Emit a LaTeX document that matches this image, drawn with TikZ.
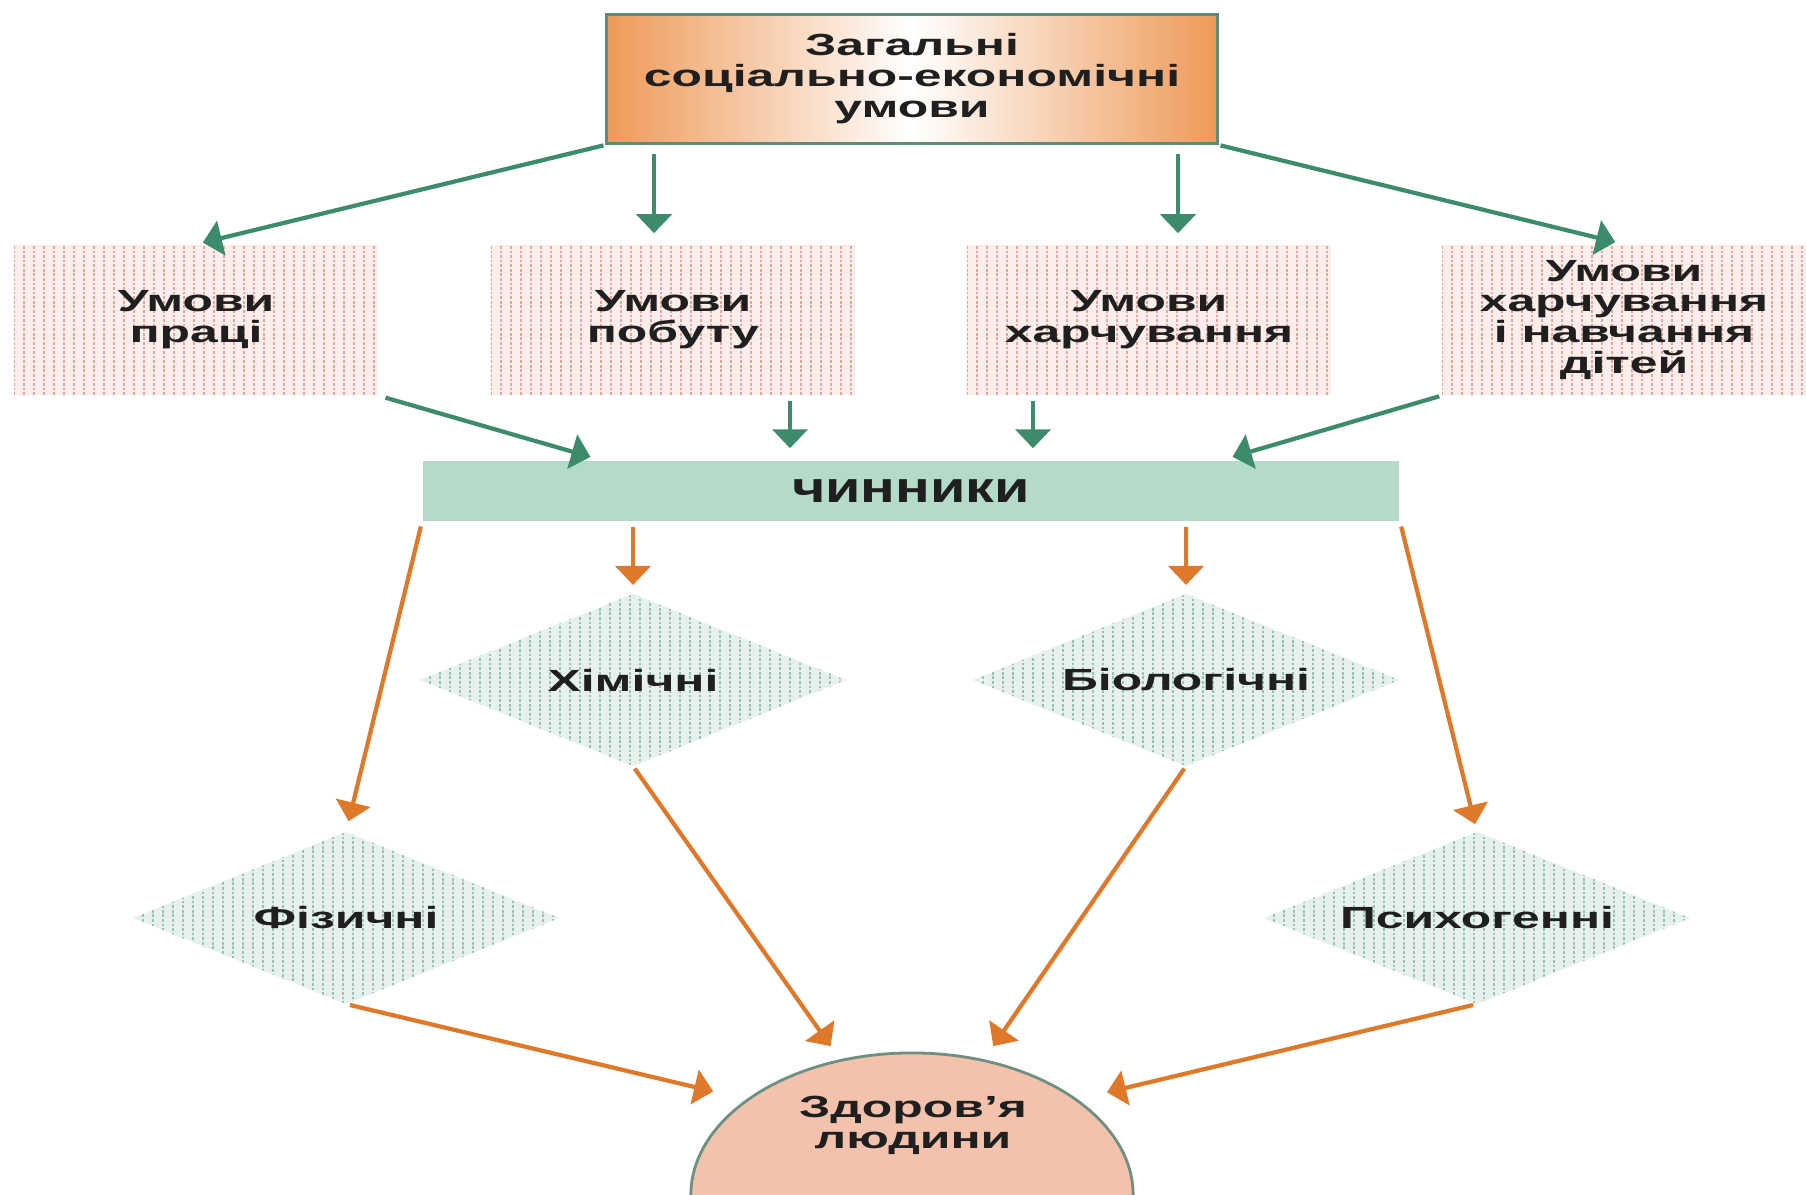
\documentclass[tikz,border=0pt]{standalone}
\usepackage{fontspec}
\setmainfont{Liberation Sans}[FakeStretch=1.63]
\newfontfamily\barfont{Liberation Sans}[FakeStretch=1.33]
\usetikzlibrary{arrows.meta,shapes.geometric}

\definecolor{arrgreen}{HTML}{3C8C6C}
\definecolor{arrorange}{HTML}{E0782A}
\definecolor{topedge}{HTML}{EE9A58}
\definecolor{boxline}{HTML}{5E8B78}
\definecolor{barfill}{HTML}{B4DBC9}
\definecolor{pinkbg}{HTML}{FAEDEA}
\definecolor{pinkline}{HTML}{E2A79E}
\definecolor{greenbg}{HTML}{E6F1EC}
\definecolor{greenline}{HTML}{98C2B1}
\definecolor{healthfill}{HTML}{F2C2AC}
\definecolor{healthline}{HTML}{6F8F80}

% vertical hatching inside a node
\newcommand\hatchcols[1]{%
  \foreach \i in {0,...,45}
    \draw[#1, line width=0.7pt, dash pattern=on 0.8pt off 0.5pt]
      ([xshift=\i*0.1cm]path picture bounding box.south west) --
      ([xshift=\i*0.1cm]path picture bounding box.north west);}

\tikzset{
  lbl/.style={font=\bfseries\fontsize{8.7}{8.8}\selectfont, text=black!88},
  garr/.style={-{Triangle[width=0.35cm,length=0.19cm]}, line width=1.2pt, arrgreen},
  oarr/.style={-{Triangle[width=0.35cm,length=0.19cm]}, line width=1.2pt, arrorange},
  cond/.style={lbl, rectangle, fill=pinkbg, minimum width=3.64cm, minimum height=1.5cm,
    align=center, path picture={\hatchcols{pinkline}}},
  factor/.style={lbl, diamond, aspect=2.48, fill=greenbg, minimum width=4.26cm, minimum height=1.72cm,
    inner sep=0pt, outer sep=0pt, path picture={\hatchcols{greenline}}},
}

\begin{document}
\begin{tikzpicture}[x=0.01cm, y=-0.01cm]
	\useasboundingbox (0,0) rectangle (1806,1195);

	% general conditions
	\node[lbl, draw=boxline, line width=0.8pt, left color=topedge, right color=topedge,
	  middle color=white, minimum width=6.1cm, minimum height=1.29cm, align=center]
	  (top) at (912,79) {Загальні\\соціально-економічні\\умови};

	% conditions
	\node[cond] (b1) at (196,320) {Умови\\праці};
	\node[cond] (b2) at (673,320) {Умови\\побуту};
	\node[cond] (b3) at (1149,320) {Умови\\харчування};
	\node[cond] (b4) at (1624,320) {Умови\\харчування\\і навчання\\дітей};

	% factors
	\node[fill=barfill, minimum width=9.76cm, minimum height=0.6cm,
	  font=\barfont\bfseries\fontsize{12.3}{13}\selectfont, text=black!88] (bar) at (911,491) {чинники};
	\node[factor] (x1) at (633,680) {Хімічні};
	\node[factor] (x2) at (1186,680) {Біологічні};
	\node[factor] (f) at (346,918) {Фізичні};
	\node[factor] (p) at (1477,918) {Психогенні};

	% health
	\begin{scope}
		\clip (0,0) rectangle (1806,1195);
		\node[ellipse, draw=healthline, line width=0.8pt, fill=healthfill,
		  minimum width=4.42cm, minimum height=2.84cm] (health) at (912,1195) {};
	\end{scope}
	\node[lbl, align=center] (htext) at (913,1125) {Здоров’я\\людини};

	% arrow columns
	\coordinate (c2) at (654,0);
	\coordinate (c3) at (1178,0);
	\coordinate (d2) at (790,0);
	\coordinate (d3) at (1033,0);
	\coordinate (e1) at (602,0);
	\coordinate (e4) at (1221,0);

	% green arrows
	\draw[garr, shorten <=0.02cm, shorten >=0.07cm] (top.south west) -- (b1.north);
	\draw[garr, shorten <=0.09cm, shorten >=0.11cm] (top.south -| c2) -- (b2.north -| c2);
	\draw[garr, shorten <=0.09cm, shorten >=0.11cm] (top.south -| c3) -- (b3.north -| c3);
	\draw[garr, shorten <=0.02cm, shorten >=0.09cm] (top.south east) -- (b4.north);
	\draw[garr, shorten <=0.07cm, shorten >=0.12cm] (b1.south east) -- (bar.north -| e1);
	\draw[garr, shorten <=0.05cm, shorten >=0.12cm] (b2.south -| d2) -- (bar.north -| d2);
	\draw[garr, shorten <=0.05cm, shorten >=0.12cm] (b3.south -| d3) -- (bar.north -| d3);
	\draw[garr, shorten <=0.02cm, shorten >=0.12cm] (b4.south west) -- (bar.north -| e4);

	% orange arrows
	\draw[oarr, shorten <=0.05cm, shorten >=0.11cm] (bar.south west) -- (f.north);
	\draw[oarr, shorten <=0.05cm, shorten >=0.09cm] (bar.south -| x1.north) -- (x1.north);
	\draw[oarr, shorten <=0.05cm, shorten >=0.09cm] (bar.south -| x2.north) -- (x2.north);
	\draw[oarr, shorten <=0.05cm, shorten >=0.08cm] (bar.south east) -- (p.north);
	\draw[oarr, shorten <=0.03cm, shorten >=0.16cm] (x1.south) -- (health.118);
	\draw[oarr, shorten <=0.03cm, shorten >=0.16cm] (x2.south) -- (health.62);
	\draw[oarr, shorten <=0.04cm, shorten >=0.34cm] (f.south) -- (health.150);
	\draw[oarr, shorten <=0.04cm, shorten >=0.30cm] (p.south) -- (health.30);
\end{tikzpicture}
\end{document}
